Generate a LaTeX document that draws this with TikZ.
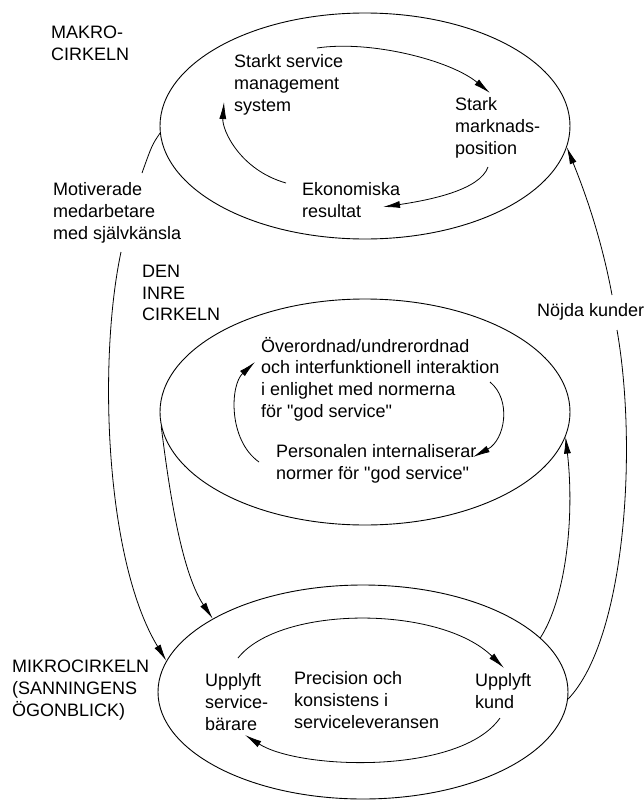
\documentclass[tikz,border=0pt]{standalone}
\usepackage{fontspec}
\setmainfont{Liberation Sans}
\usetikzlibrary{shapes.geometric,arrows.meta}
\begin{document}
\begin{tikzpicture}[x=1pt,y=-1pt,
  lbl/.style={inner sep=0pt, align=left, anchor=west, font=\fontsize{18}{21.7}\selectfont},
  ring/.style={ellipse, draw, line width=0.9pt, minimum width=410pt, minimum height=226pt, inner sep=0pt},
  conn/.style={line width=0.8pt},
  arr/.style={conn, -{Latex[length=17pt,width=7pt]}}]
\useasboundingbox (0,0) rectangle (643,803);
\fill[white] (0,0) rectangle (643,803);

% rings
\node[ring] (macro) at (365,126) {};
\node[ring] (inner) at (365,412) {};
\node[ring, minimum height=214pt] (micro) at (363,692) {};

% labels
\node[lbl] (lmacro) at (51,43) {MAKRO-\\CIRKELN};
\node[lbl] (sms) at (234,85) {Starkt service\\management\\system};
\node[lbl] (smp) at (455,128) {Stark\\marknads-\\position};
\node[lbl] (eko) at (302,200) {Ekonomiska\\resultat};
\node[lbl] (mot) at (53,213) {Motiverade\\medarbetare\\med självkänsla};
\node[lbl] (linner) at (142,293) {DEN\\INRE\\CIRKELN};
\node[lbl] (nojda) at (537,312) {Nöjda kunder};
\node[lbl] (over) at (261,379) {Överordnad/undrerordnad\\och interfunktionell interaktion\\i enlighet med normerna\\för \textquotedbl god service\textquotedbl};
\node[lbl] (pers) at (276,464) {Personalen internaliserar\\normer för \textquotedbl god service\textquotedbl};
\node[lbl] (lmicro) at (12,690) {MIKROCIRKELN\\(SANNINGENS\\ÖGONBLICK)};
\node[lbl] (ubar) at (205,702) {Upplyft\\service-\\bärare};
\node[lbl] (prec) at (294,700) {Precision och\\konsistens i\\serviceleveransen};
\node[lbl] (ukund) at (475,691) {Upplyft\\kund};

% free ends of interrupted connectors
\coordinate (motTop) at (142,173);
\coordinate (motBot) at (121,252);
\coordinate (nojTop) at (612,295);
\coordinate (nojBot) at (617,330);

% macro circle
\draw[arr] (317,48) .. controls (370,40) and (450,60) .. (490,93);
\draw[arr] (488,167) .. controls (480,190) and (430,200) .. (383,207);
\draw[arr] (286,183) .. controls (240,170) and (222,130) .. (224,102);

% inner circle
\draw[arr] (259,462) .. controls (228,440) and (230,385) .. (255,362);
\draw[arr] (490,382) .. controls (512,400) and (505,440) .. (473,457);

% micro circle
\draw[arr] (238,658) .. controls (280,605) and (440,605) .. (504,668);
\draw[arr] (500,718) .. controls (460,775) and (300,770) .. (245,735);

% connectors between circles
\draw[conn] (macro.182) .. controls (152,145) .. (motTop);
\draw[arr] (motBot) .. controls (98,360) and (105,560) .. (micro.171);
\draw[arr] (inner.184) .. controls (168,480) and (180,570) .. (micro.154);
\draw[conn] (micro.358) .. controls (625,640) and (638,450) .. (nojBot);
\draw[arr] (nojTop) .. controls (600,230) and (580,180) .. (macro.354);
\draw[arr] (micro.17) .. controls (565,600) and (575,520) .. (inner.353);
\end{tikzpicture}
\end{document}
